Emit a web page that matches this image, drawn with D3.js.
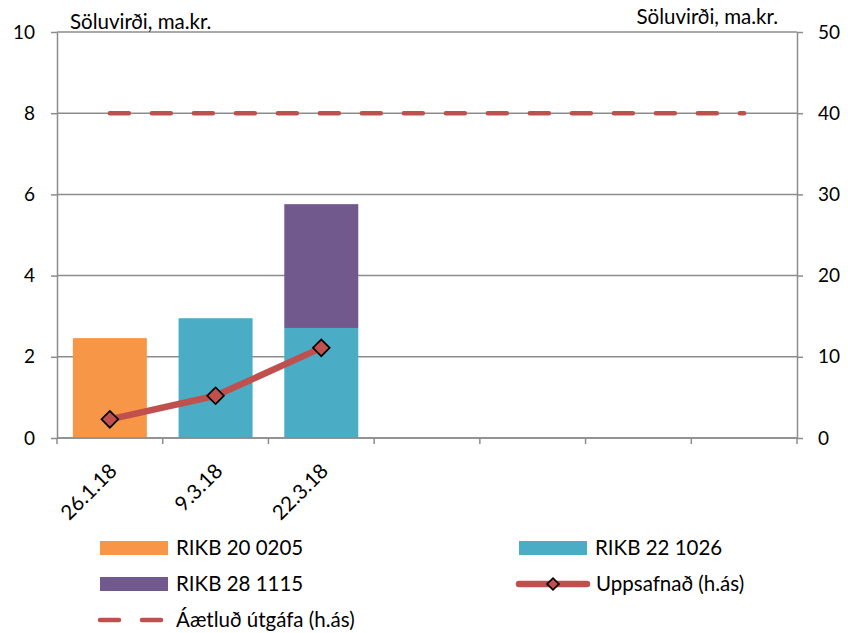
<!DOCTYPE html>
<html><head><meta charset="utf-8">
<script src="https://cdn.jsdelivr.net/npm/d3@7"></script>
<style>body{margin:0;background:#fff}svg{display:block;font-family:Lato,sans-serif}</style>
</head><body><svg id="c" width="848" height="633"></svg>
<script>
const categories = ["26.1.18","9.3.18","22.3.18","c4","c5","c6","c7"];
const categoryLabels = ["26.1.18","9.3.18","22.3.18","","","",""];
const rikb20 = [2.46, 0, 0, 0, 0, 0, 0];
const rikb22 = [0, 2.95, 2.71, 0, 0, 0, 0];
const rikb28 = [0, 0, 3.05, 0, 0, 0, 0];
const uppsafnad = [2.3, 5.2, 11.1];
const aetlud = [40, 40, 40, 40, 40, 40, 40];
const leftTicks = [0, 2, 4, 6, 8, 10];
const rightTicks = [0, 10, 20, 30, 40, 50];
const seriesNames = ["RIKB 20 0205", "RIKB 22 1026", "RIKB 28 1115", "Uppsafnað (h.ás)", "Áætluð útgáfa (h.ás)"];
const axisTitle = "Söluvirði, ma.kr.";

const colors = {o:"#F79646", t:"#4BACC6", p:"#71598E", r:"#C0504D", grid:"#8C8C8C"};
const svg = d3.select("#c");
const L = 57, R = 797, T = 32, B = 438;

const x = d3.scaleBand().domain(categories).range([L, R]).paddingInner(0.3).paddingOuter(0.15);
const xPos = d3.scaleBand().domain(categories).range([L, R]);
const yL = d3.scaleLinear().domain([0, 10]).range([B, T]);
const yR = d3.scaleLinear().domain([0, 50]).range([B, T]);

// gridlines
svg.append("g").selectAll("line").data(leftTicks).join("line")
  .attr("x1", L).attr("x2", R).attr("y1", d => yL(d)).attr("y2", d => yL(d))
  .attr("stroke", colors.grid).attr("stroke-width", 1.5);

// bars
const stack = d3.stack().keys([0,1,2]).value((d,k)=>[rikb20,rikb22,rikb28][k][d])(d3.range(categories.length));
const barColors = [colors.o, colors.t, colors.p];
stack.forEach((layer, k) => {
  svg.append("g").selectAll("rect").data(layer).join("rect")
    .attr("x", (d,i) => x(categories[i]))
    .attr("width", x.bandwidth())
    .attr("y", d => yL(d[1]))
    .attr("height", d => yL(d[0]) - yL(d[1]))
    .attr("fill", barColors[k]);
});

// axes
const axisStyle = g => {
  g.selectAll("path.domain").attr("stroke", colors.grid).attr("stroke-width", 1.5);
  g.selectAll(".tick line").attr("stroke", colors.grid).attr("stroke-width", 1.5);
  g.selectAll("text").attr("fill", "#000").style("font-family", "Lato, sans-serif");
};
svg.append("g").attr("transform", `translate(${L},0)`)
  .call(d3.axisLeft(yL).tickValues(leftTicks).tickSize(6).tickSizeOuter(0).tickPadding(16))
  .call(axisStyle).selectAll("text").attr("font-size", 19);
svg.append("g").attr("transform", `translate(${R},0)`)
  .call(d3.axisRight(yR).tickValues(rightTicks).tickSize(6).tickSizeOuter(0).tickPadding(15))
  .call(axisStyle).selectAll("text").attr("font-size", 19);

// x axis with ticks at band boundaries
const xg = svg.append("g").attr("transform", `translate(0,${B})`);
xg.append("line").attr("x1", L).attr("x2", R).attr("stroke", colors.grid).attr("stroke-width", 1.5);
const bounds = categories.map(c => xPos(c)).concat([R]);
xg.selectAll("line.tk").data(bounds).join("line").attr("class","tk")
  .attr("x1", d => d).attr("x2", d => d).attr("y1", 0).attr("y2", 6)
  .attr("stroke", colors.grid).attr("stroke-width", 1.5);
xg.selectAll("text").data(categories).join("text")
  .attr("transform", c => `translate(${xPos(c) + xPos.bandwidth()/2 + 1},${27}) rotate(-45)`)
  .attr("text-anchor", "end").attr("dy", "0.5em")
  .attr("font-size", 20.5).text((c,i) => categoryLabels[i]);

// dashed planned line (right axis)
const planLine = d3.line().x((d,i) => xPos(categories[i]) + xPos.bandwidth()/2).y(d => yR(d));
svg.append("path").datum(aetlud).attr("d", planLine).attr("fill", "none")
  .attr("stroke", colors.r).attr("stroke-width", 4.5).attr("stroke-linecap", "round")
  .attr("stroke-dasharray", "19,23");

// cumulative line
const cumLine = d3.line().x((d,i) => xPos(categories[i]) + xPos.bandwidth()/2).y(d => yR(d));
svg.append("path").datum(uppsafnad).attr("d", cumLine).attr("fill", "none")
  .attr("stroke", colors.r).attr("stroke-width", 6.5).attr("stroke-linejoin", "round").attr("stroke-linecap","round");
const diamond = d3.symbol().type(d3.symbolSquare).size(140);
svg.append("g").selectAll("path").data(uppsafnad).join("path")
  .attr("d", diamond())
  .attr("transform", (d,i) => `translate(${xPos(categories[i]) + xPos.bandwidth()/2},${yR(d)}) rotate(45)`)
  .attr("fill", colors.r).attr("stroke", "#000").attr("stroke-width", 1.7);

// axis titles
svg.append("text").attr("x", 70).attr("y", 29).attr("font-size", 20.5).text(axisTitle);
svg.append("text").attr("x", 778).attr("y", 24).attr("font-size", 20.5).attr("text-anchor", "end").text(axisTitle);

// legend
const lg = svg.append("g").attr("font-size", 20.5);
const items = [
  {x:100, y:548, type:"rect", c:colors.o, name:seriesNames[0]},
  {x:519, y:548, type:"rect", c:colors.t, name:seriesNames[1]},
  {x:100, y:584, type:"rect", c:colors.p, name:seriesNames[2]},
  {x:519, y:584, type:"line", c:colors.r, name:seriesNames[3]},
  {x:100, y:620, type:"dash", c:colors.r, name:seriesNames[4]}
];
items.forEach(it => {
  if (it.type === "rect") {
    lg.append("rect").attr("x", it.x).attr("y", it.y - 7).attr("width", 68).attr("height", 14).attr("fill", it.c);
  } else if (it.type === "line") {
    lg.append("line").attr("x1", it.x).attr("x2", it.x + 68).attr("y1", it.y).attr("y2", it.y)
      .attr("stroke", it.c).attr("stroke-width", 6.5).attr("stroke-linecap", "round");
    lg.append("path").attr("d", d3.symbol().type(d3.symbolSquare).size(70)())
      .attr("transform", `translate(${it.x + 34},${it.y}) rotate(45)`)
      .attr("fill", it.c).attr("stroke", "#000").attr("stroke-width", 1.7);
  } else {
    lg.append("line").attr("x1", it.x).attr("x2", it.x + 61).attr("y1", it.y).attr("y2", it.y)
      .attr("stroke", it.c).attr("stroke-width", 4.5).attr("stroke-linecap", "round")
      .attr("stroke-dasharray", "19,23");
  }
  lg.append("text").attr("x", it.type === "rect" ? it.x + 76 : (it.type==="line"? it.x + 77 : 176))
    .attr("y", it.y).attr("dy", "0.36em").text(it.name);
});
</script></body></html>
